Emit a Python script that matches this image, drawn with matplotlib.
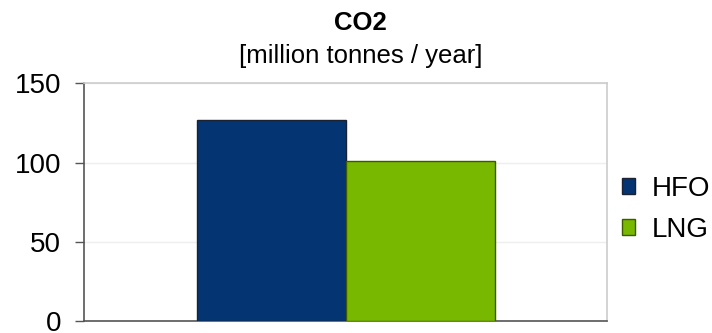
import matplotlib.pyplot as plt

plt.rcParams['font.family'] = ['Liberation Sans', 'DejaVu Sans']

# data
categories = ['']
series_names = ['HFO', 'LNG']
series_values = [[127], [101]]
series_colors = ['#043471', '#78b800']
edge_colors = ['#1a2233', '#3d5a00']
yticks = [0, 50, 100, 150]


def main():
    fig = plt.figure(figsize=(7.12, 3.33), dpi=100)
    ax = fig.add_axes([0.118, 0.036, 0.735, 0.714])

    width = 0.285
    offsets = [-width / 2, width / 2]
    for name, vals, col, ec, off in zip(series_names, series_values,
                                        series_colors, edge_colors, offsets):
        xs = [i + off for i in range(len(categories))]
        ax.bar(xs, vals, width=width, color=col, edgecolor=ec,
               linewidth=1.0, label=name, zorder=3)

    ax.set_xlim(-0.5, len(categories) - 0.5)
    ax.set_ylim(0, 150)
    ax.set_yticks(yticks)
    ax.set_xticks([])
    ax.yaxis.grid(True, color='#eeeeee', linewidth=1.0, zorder=0)
    ax.set_axisbelow(True)

    for side in ['top', 'right']:
        ax.spines[side].set_color('#cccccc')
        ax.spines[side].set_linewidth(1.2)
    for side in ['left', 'bottom']:
        ax.spines[side].set_color('#555555')
        ax.spines[side].set_linewidth(1.2)

    ax.tick_params(axis='y', direction='out', length=6.5, width=1.0,
                   color='#555555', labelsize=20, pad=10)

    fig.text(0.506, 0.91, 'CO2', ha='center', va='baseline',
             fontsize=18.5, fontweight='bold')
    fig.text(0.506, 0.811, '[million tonnes / year]', ha='center',
             va='baseline', fontsize=18.5)

    fig.legend(loc='center left', bbox_to_anchor=(0.873, 0.371),
               frameon=False, fontsize=20, handlelength=0.5,
               handleheight=0.5, handletextpad=0.6, labelspacing=0.55,
               borderpad=0, borderaxespad=0)

    fig.savefig('out.png', dpi=100)


if __name__ == '__main__':
    main()
